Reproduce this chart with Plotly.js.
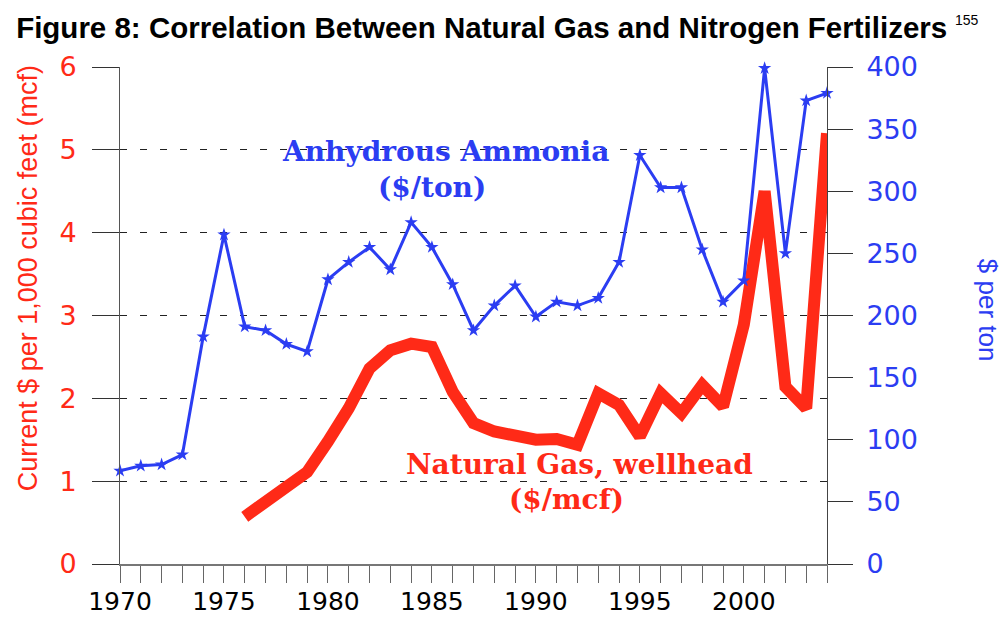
<!DOCTYPE html>
<html>
<head>
<meta charset="utf-8">
<script src="https://cdn.plot.ly/plotly-3.0.1.min.js"></script>
<style>
  html, body { margin: 0; padding: 0; background: #ffffff; }
  #chart { width: 1008px; height: 617px; }
</style>
</head>
<body>
<div id="chart"></div>
<script>
// ---- Data ----
const ammoniaYears = [1970, 1971, 1972, 1973, 1974, 1975, 1976, 1977, 1978, 1979,
                      1980, 1981, 1982, 1983, 1984, 1985, 1986, 1987, 1988, 1989,
                      1990, 1991, 1992, 1993, 1994, 1995, 1996, 1997, 1998, 1999,
                      2000, 2001, 2002, 2003, 2004];
const ammoniaPrice = [75, 79, 80, 88, 183, 265, 191, 188, 177, 171,
                      229, 243, 255, 237, 275, 255, 225, 188, 208, 224,
                      199, 211, 208, 214, 243, 329, 303, 303, 253, 211,
                      228, 399, 250, 373, 379];

const gasYears = [1976, 1977, 1978, 1979, 1980, 1981, 1982, 1983, 1984, 1985,
                  1986, 1987, 1988, 1989, 1990, 1991, 1992, 1993, 1994, 1995,
                  1996, 1997, 1998, 1999, 2000, 2001, 2002, 2003, 2004];
const gasPrice = [0.57, 0.75, 0.89, 1.11, 1.48, 1.88, 2.36, 2.58, 2.66, 2.62,
                  2.08, 1.70, 1.60, 1.56, 1.50, 1.51, 1.44, 2.06, 1.92, 1.54,
                  2.06, 1.82, 2.16, 1.90, 2.89, 4.50, 2.14, 1.88, 5.20];

const xTickVals = [1970, 1975, 1980, 1985, 1990, 1995, 2000];
const xTickText = ['1970', '1975', '1980', '1985', '1990', '1995', '2000'];
const leftTickVals = [0, 1, 2, 3, 4, 5, 6];
const rightTickVals = [0, 50, 100, 150, 200, 250, 300, 350, 400];

// ---- Styles ----
const BLUE = '#2b3df2';
const RED = '#ff2a17';
const SANS = '"Liberation Sans", Arial, sans-serif';
const TICKFONT = '"DejaVu Sans", Verdana, sans-serif';
const SERIF = '"DejaVu Serif", "Liberation Serif", serif';

const traces = [
  {
    x: gasYears, y: gasPrice, yaxis: 'y',
    type: 'scatter', mode: 'lines',
    line: { color: RED, width: 12 },
    hoverinfo: 'x+y'
  },
  {
    x: ammoniaYears, y: ammoniaPrice, yaxis: 'y2',
    type: 'scatter', mode: 'lines+markers',
    line: { color: BLUE, width: 3 },
    marker: { symbol: 'star', size: 10, color: BLUE },
    cliponaxis: false,
    hoverinfo: 'x+y'
  }
];

const layout = {
  width: 1008, height: 617,
  margin: { l: 120, r: 181, t: 67, b: 53, pad: 0 },
  paper_bgcolor: '#ffffff', plot_bgcolor: '#ffffff',
  showlegend: false,
  title: {
    text: 'Figure 8: Correlation Between Natural Gas and Nitrogen Fertilizers',
    xref: 'container', x: 0.016, xanchor: 'left',
    yref: 'container', y: 0.955, yanchor: 'middle',
    font: { family: SANS, size: 29.5, weight: 'bold', color: '#000000' }
  },
  xaxis: {
    range: [1970, 2004],
    tickmode: 'array', tickvals: xTickVals, ticktext: xTickText,
    ticks: 'outside', ticklen: 17, tickcolor: '#666666', tickwidth: 1,
    minor: { tickmode: 'array', tickvals: ammoniaYears, ticks: 'outside', ticklen: 17, tickcolor: '#666666', tickwidth: 1, showgrid: false },
    showline: true, linecolor: '#777777', linewidth: 1.5,
    showgrid: false, zeroline: false,
    tickfont: { family: TICKFONT, size: 25, color: '#000000' },
    ticklabelstandoff: -3
  },
  yaxis: {
    range: [0, 6],
    tickmode: 'array', tickvals: leftTickVals,
    ticks: 'outside', ticklen: 27, tickcolor: '#333333', tickwidth: 1,
    showline: true, linecolor: '#555555', linewidth: 1,
    showgrid: true, gridcolor: '#222222', gridwidth: 1, griddash: '7px,13px',
    zeroline: false,
    tickfont: { family: TICKFONT, size: 27, color: RED },
    ticklabelstandoff: 10
  },
  yaxis2: {
    range: [0, 400], overlaying: 'y', side: 'right',
    tickmode: 'array', tickvals: rightTickVals,
    ticks: 'outside', ticklen: 25, tickcolor: '#333333', tickwidth: 1,
    showline: true, linecolor: '#444444', linewidth: 1,
    showgrid: false, zeroline: false,
    tickfont: { family: TICKFONT, size: 27, color: BLUE },
    ticklabelstandoff: 8
  },
  annotations: [
    { text: '155', xref: 'paper', yref: 'paper', x: 1.178, y: 1.094, xanchor: 'left', yanchor: 'middle',
      showarrow: false, font: { family: SANS, size: 14, color: '#000000' } },
    { text: 'Current $ per 1,000 cubic feet (mcf)', xref: 'paper', yref: 'paper', x: -0.130, y: 0.575,
      xanchor: 'center', yanchor: 'middle', textangle: -90, showarrow: false,
      font: { family: SANS, size: 27, color: RED } },
    { text: '$ per ton', xref: 'paper', yref: 'paper', x: 1.228, y: 0.511,
      xanchor: 'center', yanchor: 'middle', textangle: 90, showarrow: false,
      font: { family: SANS, size: 26, color: BLUE } },
    { text: 'Anhydrous Ammonia', xref: 'paper', yref: 'paper', x: 0.460, y: 0.829,
      xanchor: 'center', yanchor: 'middle', showarrow: false,
      font: { family: SERIF, size: 28, weight: 'bold', color: BLUE } },
    { text: '($/ton)', xref: 'paper', yref: 'paper', x: 0.442, y: 0.757,
      xanchor: 'center', yanchor: 'middle', showarrow: false,
      font: { family: SERIF, size: 28, weight: 'bold', color: BLUE } },
    { text: 'Natural Gas, wellhead', xref: 'paper', yref: 'paper', x: 0.650, y: 0.201,
      xanchor: 'center', yanchor: 'middle', showarrow: false,
      font: { family: SERIF, size: 28, weight: 'bold', color: RED } },
    { text: '($/mcf)', xref: 'paper', yref: 'paper', x: 0.632, y: 0.129,
      xanchor: 'center', yanchor: 'middle', showarrow: false,
      font: { family: SERIF, size: 28, weight: 'bold', color: RED } }
  ]
};

Plotly.newPlot('chart', traces, layout, { displayModeBar: false, staticPlot: true });
</script>
</body>
</html>
